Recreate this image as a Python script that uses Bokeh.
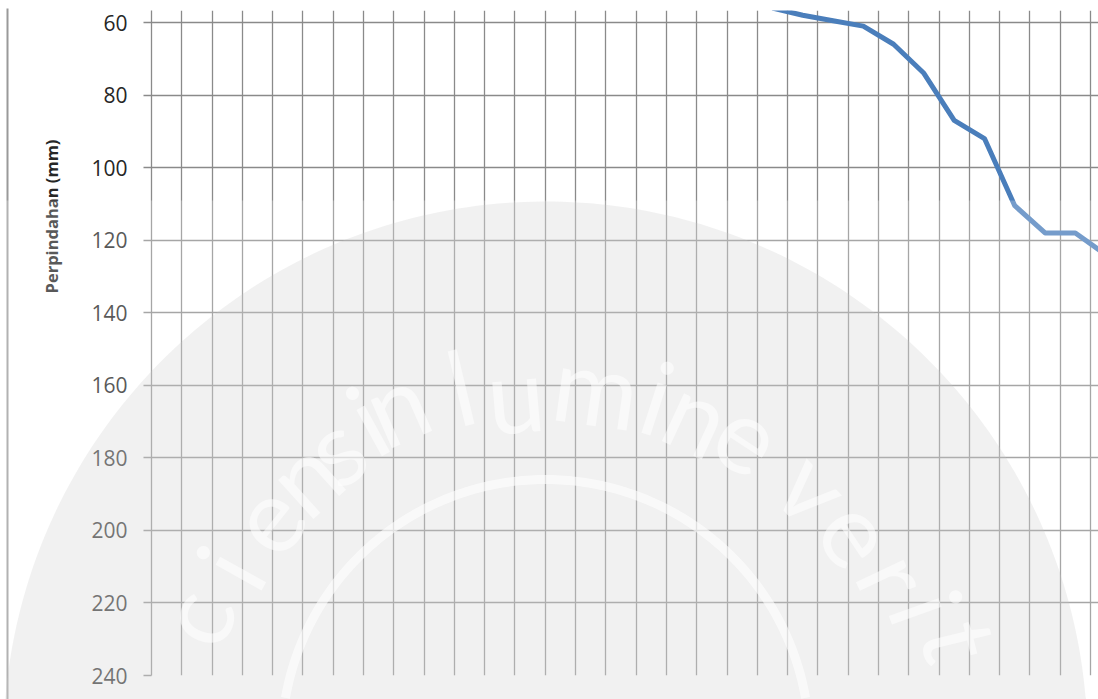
import numpy as np
from bokeh.plotting import figure
from bokeh.models import Range1d, FixedTicker, Grid
from bokeh.embed import file_html
from bokeh.resources import INLINE
from bokeh.core.properties import value

# ---------------- data ----------------
kategori = list(range(21, 33))  # category numbers (1-based) visible in the crop
perpindahan = [56, 58, 59.5, 61, 66, 74, 87, 92, 110.5, 118, 118, 124]
y_ticks = [60, 80, 100, 120, 140, 160, 180, 200, 220, 240]
n_batas = 31          # category boundaries visible (gridlines 0..31)
y_label = "Perpindahan (mm)"
wm_chars = ["c", "i", "e", "n", "s", "i", "n", "l", "u", "m", "i", "n", "e",
            "v", "e", "r", "i", "t"]   # visible part of "Proficiens in lumine veritatis"

# ---------------- layout ----------------
W, H = 1098, 699
BL, BR, BT, BB = 151, 0, 10, 24
frame_left, frame_right = BL, W - BR
frame_top, frame_bottom = BT, H - BB
cell_px = 30.29
y60_px = 22
ppu_y = (frame_bottom - y60_px) / (240 - 60)
y_top_val = 60 - (y60_px - frame_top) / ppu_y
x_end = (frame_right - frame_left) / cell_px


def to_data(px, py):
    return ((np.asarray(px, dtype=float) - frame_left) / cell_px,
            240 - (frame_bottom - np.asarray(py, dtype=float)) / ppu_y)


p = figure(width=W, height=H, x_range=Range1d(0, x_end),
           y_range=Range1d(240, y_top_val), output_backend="svg",
           toolbar_location=None, x_axis_location=None,
           min_border_left=BL, min_border_right=BR, min_border_top=BT,
           min_border_bottom=BB)
p.outline_line_color = None
p.background_fill_color = "white"
p.border_fill_color = "white"

grid_col = "#8a8a8a"
p.add_layout(Grid(dimension=0, ticker=FixedTicker(ticks=list(range(n_batas + 1))),
                  grid_line_color=grid_col, grid_line_width=1.3))

ax = p.yaxis[0]
ax.ticker = FixedTicker(ticks=y_ticks)
ax.axis_line_color = grid_col
ax.axis_line_width = 1.3
ax.major_tick_line_color = grid_col
ax.major_tick_line_width = 1.3
ax.major_tick_out = 8
ax.major_tick_in = 0
ax.minor_tick_out = 0
ax.minor_tick_in = 0
ax.major_label_standoff = 16
ax.major_label_text_font = "Open Sans"
ax.major_label_text_font_size = "21px"
ax.major_label_text_color = "#262626"
p.ygrid.grid_line_color = grid_col
p.ygrid.grid_line_width = 1.3

xs = [k - 0.5 for k in kategori]
p.line(xs, perpindahan, line_color="#4a7ebb", line_width=5, line_join="round")

# ---------------- axis title ----------------
tx, ty = to_data([51], [216])
p.text(x=list(tx), y=list(ty), text=[y_label], angle=np.pi / 2,
       text_align="center", text_baseline="middle",
       text_font=value("Open Sans"), text_font_style="bold",
       text_font_size=value("16.5px"), text_color="#262626", level="overlay")

# ---------------- outer border line ----------------
bx, by = to_data([7, 7], [8, 699])
p.line(list(bx), list(by), line_color="#9a9a9a", line_width=2, level="overlay")

# ---------------- watermark (decorative) ----------------
cx, cy = 545, 743
vx, vy = to_data([0, W], [200, H])
p.quad(left=vx[0], right=vx[1], top=vy[0], bottom=vy[1], fill_color="white",
       fill_alpha=0.24, line_color=None, level="overlay")
t = np.linspace(0, 2 * np.pi, 360)
ox, oy = to_data(cx + 542 * np.cos(t), np.minimum(cy + 542 * np.sin(t), H))
p.patch(list(ox), list(oy), fill_color="#c6c6c6", fill_alpha=0.25, line_color=None,
        level="overlay")
ta = np.linspace(np.pi, 2 * np.pi, 200)
rx, ry = to_data(cx + 264 * np.cos(ta), cy + 264 * np.sin(ta))
keep = np.asarray(ry) <= 240 + (H - frame_bottom) / ppu_y
p.line(list(np.asarray(rx)[keep]), list(np.asarray(ry)[keep]), line_color="white",
       line_width=9, line_alpha=0.6, level="overlay")

wm_px = [192, 228, 266, 302, 333, 366, 395, 460, 515, 596, 658, 698, 748,
         815, 858, 897, 928, 962]
wm_py = [616, 566, 518, 474, 446, 418, 402, 385, 392, 385, 395, 413, 435,
         485, 532, 575, 606, 640]
wx, wy = to_data(wm_px, wm_py)
wang = [-float(np.arctan2(px - cx, cy - py)) for px, py in zip(wm_px, wm_py)]
p.text(x=list(wx), y=list(wy), text=wm_chars, angle=wang,
       text_font=value("Lato"), text_font_size=value("104px"), text_color="white",
       text_alpha=0.55, text_align="center", text_baseline="middle", level="overlay")

open("out.html", "w").write(file_html(p, INLINE))
